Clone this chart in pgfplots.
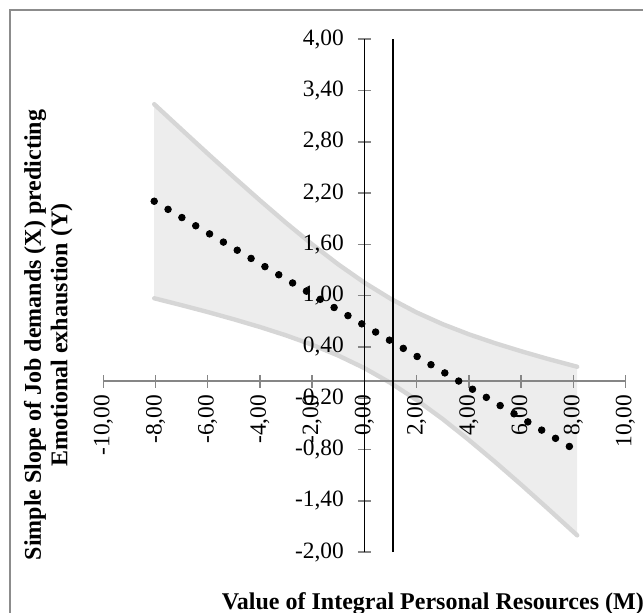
\documentclass[border=0pt]{standalone}
\usepackage{fontspec}
\setmainfont{Liberation Serif}
\usepackage{pgfplots}
\usepackage{pgfplotstable}
\pgfplotsset{compat=1.18}
\usepgfplotslibrary{fillbetween}
\definecolor{axgray}{HTML}{868686}
\definecolor{bandfill}{HTML}{EDEDED}
\definecolor{bandline}{HTML}{D6D6D6}
\definecolor{bordergray}{HTML}{8C8C8C}

\pgfplotstableread{
x u l
-8.05 3.240 0.970
-7 2.943 0.889
-6 2.662 0.809
-5 2.386 0.724
-4 2.115 0.634
-3 1.852 0.536
-2 1.601 0.426
-1 1.366 0.300
0 1.153 0.153
1 0.965 -0.020
2 0.804 -0.220
3 0.667 -0.443
4 0.549 -0.687
5 0.445 -0.943
6 0.351 -1.209
7 0.263 -1.483
8.15 0.169 -1.803
}\band

\pgfplotstableread{
x y
-8.05 2.105
-7.52 2.010
-6.99 1.914
-6.46 1.818
-5.93 1.723
-5.40 1.627
-4.87 1.532
-4.34 1.436
-3.81 1.340
-3.28 1.245
-2.75 1.149
-2.22 1.053
-1.69 0.958
-1.16 0.862
-0.63 0.767
-0.10 0.671
0.43 0.575
0.96 0.480
1.49 0.384
2.02 0.289
2.55 0.193
3.08 0.097
3.61 0.002
4.14 -0.094
4.67 -0.189
5.20 -0.285
5.73 -0.381
6.26 -0.476
6.79 -0.572
7.32 -0.668
7.85 -0.763
}\slope

\begin{document}
\begin{tikzpicture}
\draw[bordergray, line width=0.75pt] (5pt,301pt) rectangle (340pt,-20pt);
\begin{axis}[
  at={(51.65pt,29.9pt)}, anchor=south west,
  scale only axis, width=261.1pt, height=256.5pt,
  xmin=-10, xmax=10, ymin=-2, ymax=4,
  axis x line*=middle, axis y line*=middle,
  set layers=standard,
  hide obscured x ticks=false, hide obscured y ticks=false,
  x axis line style={axgray, line width=0.75pt, -},
  y axis line style={black, line width=0.6pt, -},
  tick style={axgray, line width=0.75pt},
  major tick length=6.5pt, tick align=center,
  xtick={-10,-8,-6,-4,-2,0,2,4,6,8,10},
  ytick={-2,-1.4,-0.8,-0.2,0.4,1,1.6,2.2,2.8,3.4,4},
  minor tick num=0,
  xticklabel style={rotate=90, anchor=east, font=\fontsize{11.7}{13}\selectfont},
  yticklabel style={anchor=east, xshift=-3.5pt, font=\fontsize{11.7}{13}\selectfont},
  /pgf/number format/fixed, /pgf/number format/fixed zerofill,
  /pgf/number format/precision=2, /pgf/number format/use comma,
  /pgf/number format/assume math mode=true,
]
\addplot[bandline, line width=2.2pt, line cap=round, name path=U, on layer=axis grid] table[x=x,y=u]{\band};
\addplot[bandline, line width=2.2pt, line cap=round, name path=L, on layer=axis grid] table[x=x,y=l]{\band};
\addplot[bandfill] fill between[of=U and L, on layer=axis background];
\addplot[black, line width=1.1pt] coordinates {(1.08,-2) (1.08,4)};
\addplot[only marks, mark=*, mark size=1.65pt, black] table[x=x,y=y]{\slope};
\end{axis}
\node[anchor=base west, font=\bfseries\fontsize{12}{14}\selectfont, inner sep=0] at (110.7pt,1.5pt) {Value of Integral Personal Resources (M)};
\node[rotate=90, align=center, font=\bfseries\fontsize{12}{13.3}\selectfont, inner sep=0] at (24.1pt,138.5pt) {Simple Slope of Job demands (X) predicting\\Emotional exhaustion (Y)};
\pgfresetboundingbox
\useasboundingbox (0,0) rectangle (321.5pt,306pt);
\end{tikzpicture}
\end{document}
